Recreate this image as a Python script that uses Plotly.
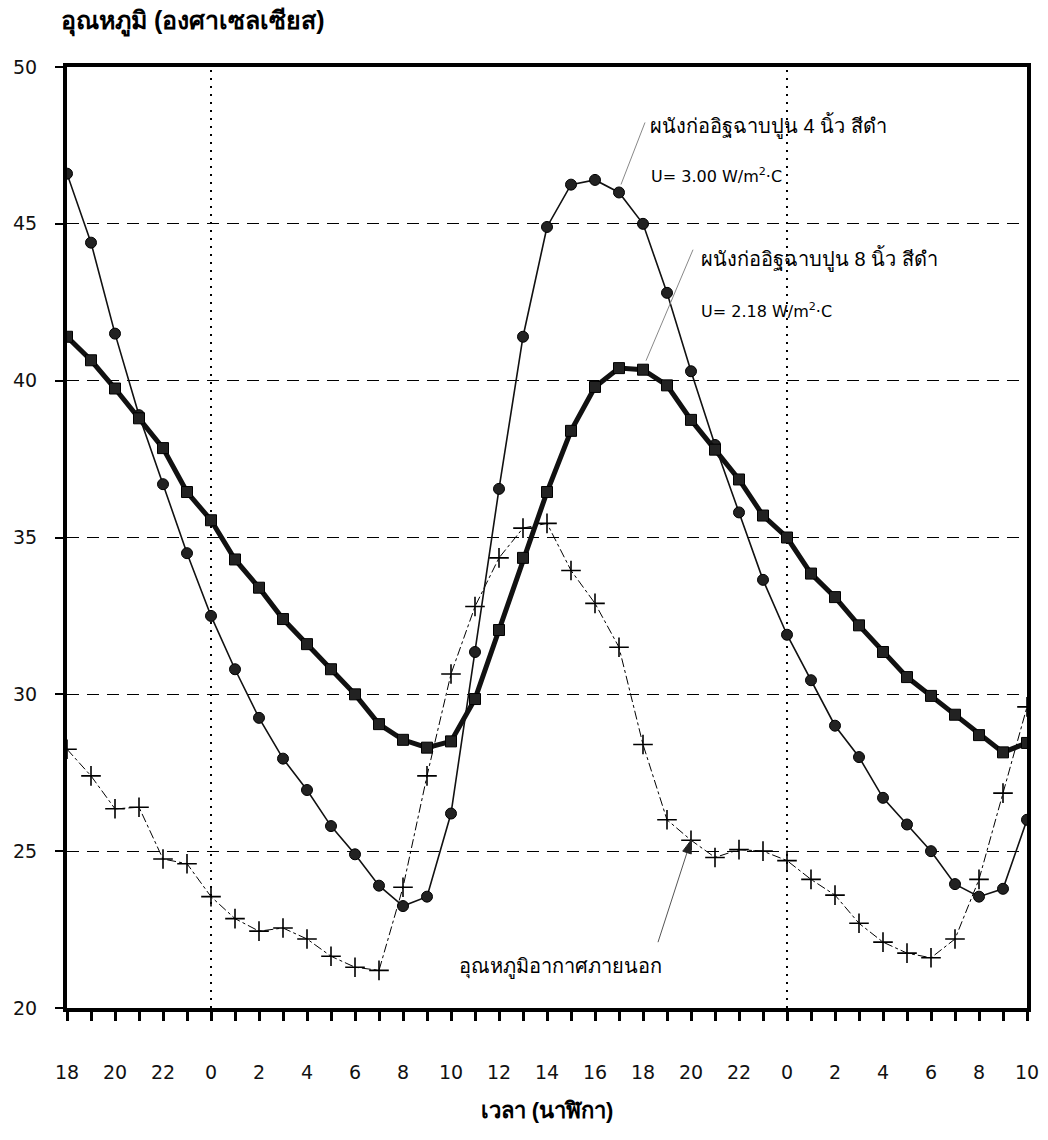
import math
import plotly.graph_objects as go

# clock hour of each hourly reading (18:00 day 1 -> 10:00 day 3)
time_labels = [18, 19, 20, 21, 22, 23,
               0, 1, 2, 3, 4, 5, 6, 7, 8, 9, 10, 11, 12, 13, 14, 15, 16, 17,
               18, 19, 20, 21, 22, 23,
               0, 1, 2, 3, 4, 5, 6, 7, 8, 9, 10]

# 4-inch brick wall, black (U = 3.00)
wall_4in = [46.6, 44.4, 41.5, 38.9, 36.7, 34.5, 32.5, 30.8, 29.25, 27.95, 26.95,
            25.8, 24.9, 23.9, 23.25, 23.55, 26.2, 31.35, 36.55, 41.4, 44.9,
            46.25, 46.4, 46.0, 45.0, 42.8, 40.3, 37.95, 35.8, 33.65, 31.9,
            30.45, 29.0, 28.0, 26.7, 25.85, 25.0, 23.95, 23.55, 23.8, 26.0]

# 8-inch brick wall, black (U = 2.18)
wall_8in = [41.4, 40.65, 39.75, 38.8, 37.85, 36.45, 35.55, 34.3, 33.4, 32.4, 31.6,
            30.8, 30.0, 29.05, 28.55, 28.3, 28.5, 29.85, 32.05, 34.35, 36.45,
            38.4, 39.8, 40.4, 40.35, 39.85, 38.75, 37.8, 36.85, 35.7, 35.0,
            33.85, 33.1, 32.2, 31.35, 30.55, 29.95, 29.35, 28.7, 28.15, 28.45]

# outdoor air temperature
outside = [28.25, 27.4, 26.35, 26.4, 24.75, 24.6, 23.55, 22.85, 22.45, 22.55, 22.2,
           21.65, 21.3, 21.2, 23.85, 27.4, 30.65, 32.8, 34.35, 35.3, 35.45,
           33.95, 32.9, 31.5, 28.4, 26.0, 25.35, 24.8, 25.05, 25.0, 24.7,
           24.1, 23.6, 22.7, 22.1, 21.75, 21.6, 22.2, 24.1, 26.85, 29.6]

y_ticks = [20, 25, 30, 35, 40, 45, 50]

x = list(range(len(time_labels)))
label_idx = x[::2]
label_txt = [str(time_labels[i]) for i in label_idx]
midnights = [i for i, h in enumerate(time_labels) if h == 0]

FONT = "Liberation Sans, Arial, sans-serif"
NUMFONT = "DejaVu Sans, Liberation Sans, sans-serif"

fig = go.Figure()

fig.add_trace(go.Scatter(
    x=x, y=outside, mode="lines+markers",
    line=dict(color="black", width=1, dash="dashdot"),
    marker=dict(symbol="cross-thin", size=14, line=dict(color="black", width=1.6)),
    showlegend=False))

fig.add_trace(go.Scatter(
    x=x, y=wall_4in, mode="lines+markers",
    line=dict(color="#111", width=1.6),
    marker=dict(symbol="circle", size=11, color="#222", line=dict(color="#000", width=1)),
    showlegend=False))

fig.add_trace(go.Scatter(
    x=x, y=wall_8in, mode="lines+markers",
    line=dict(color="#111", width=5),
    marker=dict(symbol="square", size=11, color="#222", line=dict(color="#000", width=1)),
    showlegend=False))

for m in midnights:
    fig.add_shape(type="line", xref="x", yref="paper", x0=m, x1=m, y0=0, y1=1,
                  line=dict(color="black", width=2, dash="2px,6px"), layer="below")


def leader(ix, iy, dx0, dy0, dx1, dy1, color, width):
    """thin line anchored at a data point, offsets in pixels (y up)."""
    fig.add_shape(type="line", xref="x", yref="y",
                  xsizemode="pixel", ysizemode="pixel", xanchor=ix, yanchor=iy,
                  x0=dx0, y0=dy0, x1=dx1, y1=dy1,
                  line=dict(color=color, width=width))


# leader lines to the wall labels
leader(23, wall_4in[23], 2, 8, 26, 70, "#888", 1)
leader(24, wall_8in[24], 3, 9, 50, 120, "#888", 1)

# arrow to the outdoor curve
tail = (-33.0, -102.0)
leader(26, outside[26], tail[0], tail[1], 0, 0, "#555", 1)
L = math.hypot(*tail)
d = (-tail[0] / L, -tail[1] / L)
p = (-d[1], d[0])
hl, hw = 13.0, 4.5
b = (-hl * d[0], -hl * d[1])
pts = [(0, 0), (b[0] + hw * p[0], b[1] + hw * p[1]), (b[0] - hw * p[0], b[1] - hw * p[1])]
path = "M {:.2f},{:.2f} L {:.2f},{:.2f} L {:.2f},{:.2f} Z".format(*[c for pt in pts for c in pt])
fig.add_shape(type="path", xref="x", yref="y", xsizemode="pixel", ysizemode="pixel",
              xanchor=26, yanchor=outside[26], path=path,
              fillcolor="#222", line=dict(color="#222", width=1))

fig.update_xaxes(
    range=[0, len(time_labels) - 1],
    tickmode="array", tickvals=label_idx, ticktext=label_txt,
    ticks="outside", ticklen=9, tickwidth=3, tickcolor="black",
    minor=dict(dtick=1, ticks="outside", ticklen=9, tickwidth=3, tickcolor="black"),
    ticklabelstandoff=35,
    tickfont=dict(family=NUMFONT, size=19, color="#111"),
    showline=True, linewidth=4, linecolor="black", mirror=True,
    showgrid=False, zeroline=False,
    title=dict(text="<b>เวลา (นาฬิกา)</b>", font=dict(family=FONT, size=22, color="black"),
               standoff=22),
)
fig.update_yaxes(
    range=[y_ticks[0], y_ticks[-1]],
    tickmode="array", tickvals=y_ticks,
    ticks="outside", ticklen=8, tickwidth=2, tickcolor="black",
    ticklabelstandoff=14,
    tickfont=dict(family=NUMFONT, size=19, color="#111"),
    showline=True, linewidth=4, linecolor="black", mirror=True,
    showgrid=True, gridcolor="black", gridwidth=1, griddash="12px,8px",
    zeroline=False,
)

ann = []
ann.append(dict(xref="paper", yref="paper", x=-0.008, y=1.048, xanchor="left", yanchor="middle",
                text="<b>อุณหภูมิ (องศาเซลเซียส)</b>", showarrow=False,
                font=dict(family=FONT, size=25, color="black")))
ann.append(dict(x=24.2, y=48.15, xanchor="left", yanchor="middle", showarrow=False,
                text="ผนังก่ออิฐฉาบปูน 4 นิ้ว สีดำ", font=dict(family=FONT, size=20, color="black")))
ann.append(dict(x=24.25, y=46.55, xanchor="left", yanchor="middle", showarrow=False,
                text="U= 3.00 W/m<sup>2</sup>·C", font=dict(family=NUMFONT, size=16, color="black")))
ann.append(dict(x=26.35, y=43.9, xanchor="left", yanchor="middle", showarrow=False,
                text="ผนังก่ออิฐฉาบปูน 8 นิ้ว สีดำ", font=dict(family=FONT, size=20, color="black")))
ann.append(dict(x=26.35, y=42.25, xanchor="left", yanchor="middle", showarrow=False,
                text="U= 2.18 W/m<sup>2</sup>·C", font=dict(family=NUMFONT, size=16, color="black")))
ann.append(dict(x=20.55, y=21.3, xanchor="center", yanchor="middle", showarrow=False,
                text="อุณหภูมิอากาศภายนอก", font=dict(family=FONT, size=20, color="black")))
fig.update_layout(annotations=ann)

fig.update_layout(
    width=1048, height=1140,
    margin=dict(l=67, r=21, t=67, b=132, autoexpand=False),
    paper_bgcolor="white", plot_bgcolor="white",
    font=dict(family=FONT, color="black"),
)

fig.write_html("out.html")
